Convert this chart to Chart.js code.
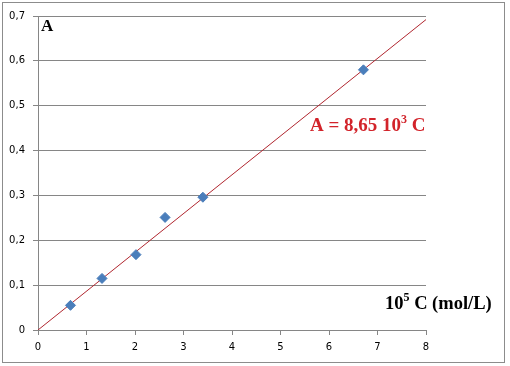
<!DOCTYPE html>
<html>
<head>
<meta charset="utf-8">
<script src="https://cdn.jsdelivr.net/npm/chart.js@4/dist/chart.umd.min.js"></script>
<style>
  html, body { margin: 0; padding: 0; background: #fff; }
  canvas { display: block; }
</style>
</head>
<body>
<canvas id="chart" width="510" height="366"></canvas>
<script>
// mesures (10^5 C, absorbance)
const concX = [0.67, 1.32, 2.02, 2.62, 3.40, 6.71];
const absY = [0.055, 0.115, 0.168, 0.251, 0.296, 0.580];

// droite de régression A = 8,65 10^3 C
const trendX = [0, 8];
const trendY = [0, 0.692];

const xTicks = [0, 1, 2, 3, 4, 5, 6, 7, 8];
const yTicks = [0, 0.1, 0.2, 0.3, 0.4, 0.5, 0.6, 0.7];

const gridColor = '#868686';
const tickFont = { family: 'DejaVu Sans', size: 10 };

// cadre + textes (A, équation, titre de l'axe)
const decor = {
    id: 'decor',
    beforeDraw(chart) {
        const ctx = chart.ctx;
        ctx.save();
        ctx.fillStyle = '#fff';
        ctx.fillRect(0, 0, chart.width, chart.height);
        ctx.restore();
    },
    afterDraw(chart) {
        const ctx = chart.ctx;
        ctx.save();
        ctx.strokeStyle = '#8c8c8c';
        ctx.lineWidth = 1;
        ctx.strokeRect(2.5, 2.5, 502, 360);

        ctx.textBaseline = 'alphabetic';
        ctx.textAlign = 'left';

        // axe Y
        ctx.fillStyle = '#000';
        ctx.font = 'bold 17px "Liberation Serif"';
        ctx.fillText('A', 41, 31);

        // equation
        let x = 310, y = 131;
        ctx.fillStyle = '#d2232a';
        ctx.font = 'bold 19px "Liberation Serif"';
        let s = 'A = 8,65 10';
        ctx.fillText(s, x, y);
        x += ctx.measureText(s).width;
        ctx.font = 'bold 12px "Liberation Serif"';
        ctx.fillText('3', x, y - 8);
        x += ctx.measureText('3').width;
        ctx.font = 'bold 19px "Liberation Serif"';
        ctx.fillText(' C', x, y);

        // axe X
        x = 385; y = 309;
        ctx.fillStyle = '#000';
        ctx.font = 'bold 18.5px "Liberation Serif"';
        ctx.fillText('10', x, y);
        x += ctx.measureText('10').width;
        ctx.font = 'bold 12px "Liberation Serif"';
        ctx.fillText('5', x, y - 8);
        x += ctx.measureText('5').width;
        ctx.font = 'bold 18.5px "Liberation Serif"';
        ctx.fillText(' C (mol/L)', x, y);
        ctx.restore();
    }
};

const ctx = document.getElementById('chart').getContext('2d');
new Chart(ctx, {
    type: 'scatter',
    data: {
        datasets: [{
            data: concX.map((v, i) => ({ x: v, y: absY[i] })),
            pointStyle: 'rectRot',
            pointRadius: 5,
            backgroundColor: '#4a7ebb',
            borderColor: '#4a7ebb',
            borderWidth: 1
        }, {
            data: trendX.map((v, i) => ({ x: v, y: trendY[i] })),
            showLine: true,
            pointRadius: 0,
            borderColor: '#b0262f',
            borderWidth: 1
        }]
    },
    options: {
        responsive: false,
        animation: false,
        layout: { padding: { left: 0, right: 84, top: 16, bottom: 0 } },
        plugins: { legend: { display: false }, tooltip: { enabled: false } },
        scales: {
            x: {
                type: 'linear',
                min: 0, max: 8,
                afterBuildTicks: s => { s.ticks = xTicks.map(v => ({ value: v })); },
                afterFit: s => { s.height = 36; },
                grid: { drawOnChartArea: false, drawTicks: true, tickLength: 5, color: gridColor },
                border: { color: gridColor },
                ticks: { color: '#000', font: tickFont, padding: 6, maxRotation: 0 }
            },
            y: {
                min: 0, max: 0.7,
                afterBuildTicks: s => { s.ticks = yTicks.map(v => ({ value: v })); },
                afterFit: s => { s.width = 38; },
                grid: { color: gridColor, tickLength: 5 },
                border: { color: gridColor },
                ticks: {
                    color: '#000', font: tickFont, padding: 8,
                    callback: v => v === 0 ? '0' : v.toFixed(1).replace('.', ',')
                }
            }
        }
    },
    plugins: [decor]
});
</script>
</body>
</html>
